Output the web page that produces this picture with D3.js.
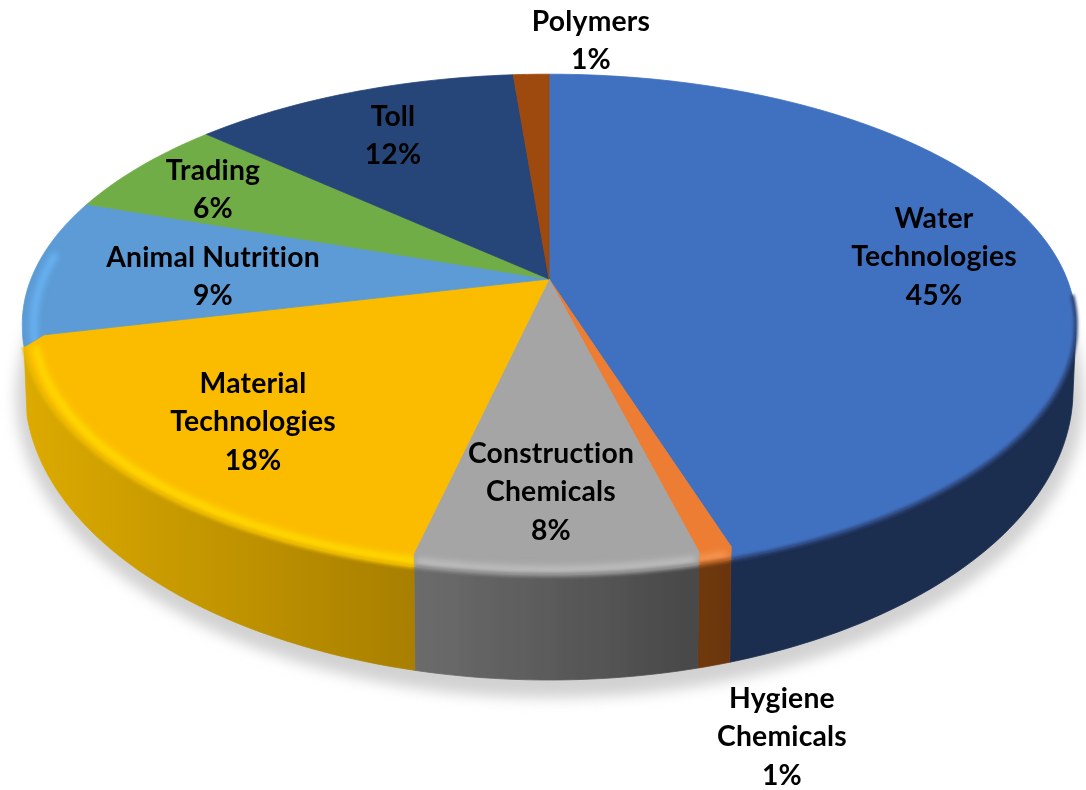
<!DOCTYPE html>
<html><head><meta charset="utf-8">
<script src="https://cdn.jsdelivr.net/npm/d3@7"></script>
<style>html,body{margin:0;padding:0;background:#fff;overflow:hidden}svg{display:block}</style>
</head><body><svg id="c" width="1086" height="790"></svg>
<script>
// Data
const categories = ["Water Technologies","Hygiene Chemicals","Construction Chemicals","Material Technologies","Animal Nutrition","Trading","Toll","Polymers"];
const shares = [45.1,0.9,7.6,17.7,9.0,6.4,12.0,1.3];
const labelLines = [["Water","Technologies"],["Hygiene","Chemicals"],["Construction","Chemicals"],["Material","Technologies"],["Animal Nutrition"],["Trading"],["Toll"],["Polymers"]];
const topColors = ["#4170c0","#ed7d31","#a5a5a5","#fbbc00","#5b9bd5","#70ad47","#264478","#9e480e"];
const sideColorsLeft = ["#1b2d4f","#70390f","#6c6c6c","#dcaa04",null,null,null,null];
const sideColorsRight = ["#1b2d4f","#6a3511","#484848","#a87f02",null,null,null,null];
const highlightColors = [null,"#f59a5a","#c2c2c2","#ffdc00","#6cb8fa",null,null,null];
const rimColors = ["#2a4478","#a85a24","#8a8a8a","#e8b800",null,null,null,null];

// Layout
const W=1086,H=790, cx=549, cy=279;
const R=518, S=242, k=0.1816;           // perspective projection of the top disc
const ey=324.5, rxTop=527, ryTop=250.5; // resulting ellipse
const rxBot=524, ryBot=290, eyBot=390;  // lower outline
const labelCenters=[[934,218],[782,698],[551,453],[253,383],[213,257],[213,170],[393,116],[591,21]];
const lineH=38.3;

const svg=d3.select("#c");
const defs=svg.append("defs");
const blur=(id,s)=>defs.append("filter").attr("id",id).attr("filterUnits","userSpaceOnUse")
  .attr("x",0).attr("y",0).attr("width",W).attr("height",H)
  .append("feGaussianBlur").attr("stdDeviation",s);
blur("shadowBlur",7); blur("bevelBlur",3); blur("rimBlur",1.8); blur("soft",0.55); blur("textSoft",0.3);

const pie=d3.pie().sort(null).startAngle(0).endAngle(2*Math.PI).value(d=>d);
const arcs=pie(shares);
const line=d3.line();

function P(a){ const u=Math.sin(a), v=-Math.cos(a), d=1-k*v; return [cx+R*u/d, cy+S*v/d]; }
function seam(a){ // rim point, bent towards vertical by the bevel at the front
  const p=P(a), f=Math.max(0,(p[1]-ey)/ryTop), x=cx+(p[0]-cx)*(1-0.045*f);
  if(f===0) return p;
  const t=Math.min(1,Math.abs(x-cx)/rxTop);
  return [x, ey+ryTop*Math.sqrt(1-t*t)];
}
function bottom(pt){
  const x=cx+(pt[0]-cx)*rxBot/rxTop, t=Math.min(1,Math.abs(x-cx)/rxBot);
  return [x, eyBot+ryBot*Math.sqrt(1-t*t)];
}
const samples=(a0,a1)=>d3.range(0,1.0001,1/Math.max(4,Math.ceil((a1-a0)*60))).map(t=>a0+(a1-a0)*t);
const frontA0=Math.acos(-0.184), frontA1=2*Math.PI-frontA0;

// shadow
svg.append("ellipse").attr("cx",cx+1).attr("cy",eyBot+7).attr("rx",rxBot+10).attr("ry",ryBot+11)
  .attr("fill","#d2d2d2").attr("filter","url(#shadowBlur)");

const pieG=svg.append("g").attr("filter","url(#soft)");

// side wall
arcs.forEach((d,i)=>{
  if(!sideColorsLeft[i]) return;
  const a0=Math.max(d.startAngle,frontA0), a1=Math.min(d.endAngle,frontA1);
  if(a1<=a0) return;
  const tops=samples(a0,a1).map(seam), bots=tops.map(bottom).reverse();
  const g=defs.append("linearGradient").attr("id","side"+i).attr("gradientUnits","userSpaceOnUse")
    .attr("x1",d3.min(tops,p=>p[0])).attr("x2",d3.max(tops,p=>p[0])).attr("y1",0).attr("y2",0);
  g.append("stop").attr("offset",0).attr("stop-color",sideColorsLeft[i]);
  g.append("stop").attr("offset",1).attr("stop-color",sideColorsRight[i]);
  pieG.append("path").attr("d",line(tops.concat(bots))+"Z").attr("fill",`url(#side${i})`)
    .attr("stroke",`url(#side${i})`).attr("stroke-width",0.8);
});

// top surface
const rimLayer=[];
arcs.forEach((d,i)=>{
  const sa=samples(d.startAngle,d.endAngle), rim=sa.map(seam);
  const inner=a=>{const p=P(a);return [cx+(p[0]-cx)*0.96,cy+(p[1]-cy)*0.96];};
  const poly=[[cx,cy],inner(d.startAngle),...rim,inner(d.endAngle)];
  const dPath=line(poly)+"Z";
  defs.append("clipPath").attr("id","clip"+i).append("path").attr("d",dPath);
  pieG.append("path").attr("d",dPath).attr("fill",topColors[i]).attr("stroke",topColors[i]).attr("stroke-width",0.8);
  const band=pieG.append("g").attr("clip-path",`url(#clip${i})`);
  const a0=Math.max(d.startAngle,frontA0-0.12), a1=Math.min(d.endAngle,frontA1+0.3);
  if(a1>a0){
    const arcPts=samples(a0,a1).map(seam);
    if(highlightColors[i]){
      const scale=0.978;
      const ins=arcPts.map(p=>[cx+(p[0]-cx)*scale, ey+(p[1]-ey)*scale]);
      band.append("path").attr("d",line(ins)).attr("fill","none")
        .attr("stroke",highlightColors[i]).attr("stroke-width",i===3?7:6).attr("filter","url(#bevelBlur)");
    }
    if(rimColors[i]) rimLayer.push({pts:arcPts,color:rimColors[i]});
  }
});
// soft transition from top surface to side wall
rimLayer.forEach(r=>{
  pieG.append("path").attr("d",line(r.pts)).attr("fill","none")
    .attr("stroke",r.color).attr("stroke-width",4).attr("filter","url(#rimBlur)");
});

// labels
const pct=d3.format(".0f");
const labels=svg.append("g").attr("font-family","Lato, 'Open Sans', sans-serif").attr("font-weight",700)
  .attr("font-size",28.3).attr("fill","#000").attr("text-anchor","middle").attr("filter","url(#textSoft)");
arcs.forEach((d,i)=>{
  const [x,y]=labelCenters[i];
  const rows=labelLines[i].concat([pct(shares[i])+"%"]);
  rows.forEach((t,j)=>labels.append("text").attr("x",x).attr("y",y+j*lineH).attr("dy","0.36em").attr("letter-spacing",0.2).text(t));
});
</script></body></html>
